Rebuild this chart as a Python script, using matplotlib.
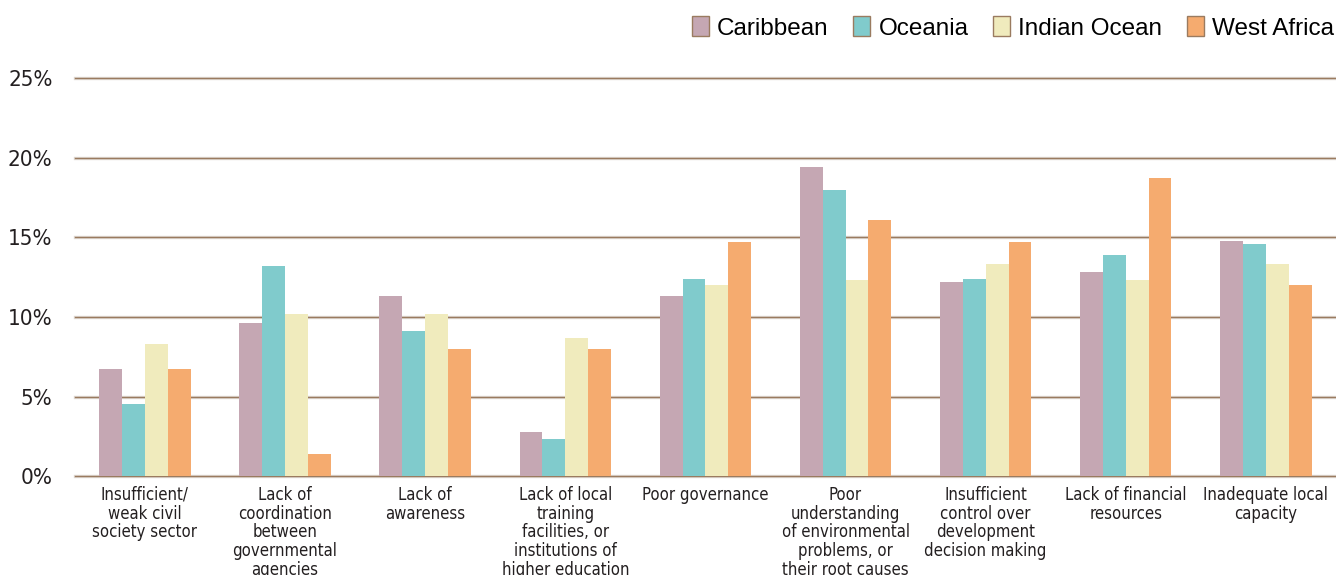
import numpy as np
import matplotlib
matplotlib.use("Agg")
import matplotlib.pyplot as plt
from matplotlib.patches import Patch

categories = ["Insufficient/\nweak civil\nsociety sector",
              "Lack of\ncoordination\nbetween\ngovernmental\nagencies",
              "Lack of\nawareness",
              "Lack of local\ntraining\nfacilities, or\ninstitutions of\nhigher education",
              "Poor governance",
              "Poor\nunderstanding\nof environmental\nproblems, or\ntheir root causes",
              "Insufficient\ncontrol over\ndevelopment\ndecision making",
              "Lack of financial\nresources",
              "Inadequate local\ncapacity"]
series = ["Caribbean", "Oceania", "Indian Ocean", "West Africa"]
caribbean = [6.7, 9.6, 11.3, 2.8, 11.3, 19.4, 12.2, 12.8, 14.8]
oceania = [4.5, 13.2, 9.1, 2.3, 12.4, 18.0, 12.4, 13.9, 14.6]
indian_ocean = [8.3, 10.2, 10.2, 8.7, 12.0, 12.3, 13.3, 12.3, 13.3]
west_africa = [6.7, 1.4, 8.0, 8.0, 14.7, 16.1, 14.7, 18.7, 12.0]
yticks = [0, 5, 10, 15, 20, 25]
yticklabels = ["0%", "5%", "10%", "15%", "20%", "25%"]

colors = ["#c5a7b3", "#80cbcc", "#f0ebbd", "#f5ab6f"]

fig = plt.figure(figsize=(13.36, 5.75), dpi=100)
ax = fig.add_axes([0.056, 0.172, 0.944, 0.692])

x = np.arange(len(categories))
w = 0.163
data = [caribbean, oceania, indian_ocean, west_africa]
for i, (vals, c) in enumerate(zip(data, colors)):
    ax.bar(x + (i - 1.5) * w, vals, w, color=c, zorder=3)

ax.set_xlim(-0.5, len(categories) - 0.5)
ax.set_ylim(0, 25)
ax.set_yticks(yticks)
ax.set_yticklabels(yticklabels, family="DejaVu Sans", fontstretch="condensed",
                   fontsize=16, color="#231f20")
for t in yticks:
    ax.axhline(t, color="#e0dad4", lw=2.4, zorder=1, clip_on=False)
    ax.axhline(t, color="#9a7b60", lw=1.0, zorder=2, clip_on=False)
ax.set_xticks(x)
ax.set_xticklabels(categories, family="DejaVu Sans", fontstretch="condensed",
                   fontsize=12, color="#231f20", va="top", linespacing=1.05)
ax.tick_params(axis="both", length=0)
ax.tick_params(axis="y", pad=16)
ax.tick_params(axis="x", pad=7)
for s in ax.spines.values():
    s.set_visible(False)

handles = [Patch(facecolor=c, edgecolor="#9a7b60", lw=1.0) for c in colors]
fig.legend(handles, series, loc="upper right", bbox_to_anchor=(1.015, 1.01),
           ncol=4, frameon=False, prop={"family": "Liberation Sans", "size": 17.5},
           handlelength=0.7, handleheight=0.9, handletextpad=0.35, columnspacing=1.0)

fig.savefig("out.png", dpi=100)
